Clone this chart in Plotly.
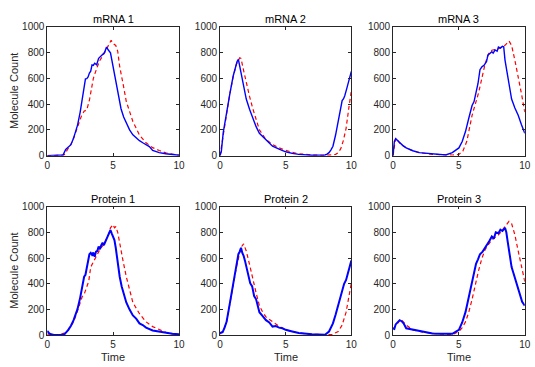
import plotly.graph_objects as go

# ---------------- data ----------------
titles = ["mRNA 1", "mRNA 2", "mRNA 3", "Protein 1", "Protein 2", "Protein 3"]

# deterministic (red dashed)
m1_ode_t = [0, 0.5, 1.0, 1.3, 1.5, 1.8, 2.0, 2.2, 2.4, 2.6, 2.8, 3.0, 3.2, 3.5, 3.8, 4.0, 4.3, 4.5, 4.7, 4.85, 5.0, 5.2, 5.35, 5.5, 5.75, 6.0, 6.5, 7.0, 7.5, 8.0, 8.5, 9.0, 9.5, 10.0]
m1_ode_y = [0, 0, 2, 8, 40, 90, 135, 190, 255, 310, 345, 355, 430, 600, 690, 740, 790, 830, 870, 895, 870, 855, 810, 690, 560, 420, 265, 160, 100, 62, 40, 22, 12, 5]
m1_ssa_t = [0, 0.5, 1.0, 1.2, 1.4, 1.6, 1.8, 2.0, 2.15, 2.3, 2.5, 2.7, 2.9, 3.0, 3.1, 3.2, 3.3, 3.4, 3.5, 3.6, 3.75, 3.9, 4.05, 4.2, 4.35, 4.5, 4.55, 4.65, 4.8, 5.0, 5.15, 5.3, 5.45, 5.6, 5.8, 6.0, 6.25, 6.5, 6.75, 7.0, 7.25, 7.5, 7.75, 8.0, 8.5, 9.0, 9.5, 10.0]
m1_ssa_y = [0, 0, 2, 5, 48, 68, 85, 136, 185, 237, 338, 465, 596, 598, 611, 641, 655, 704, 700, 717, 705, 755, 770, 780, 800, 843, 830, 818, 798, 692, 600, 515, 430, 364, 300, 250, 200, 162, 135, 116, 100, 86, 70, 40, 23, 15, 8, 3]

m2_ode_t = [0, 0.25, 0.5, 0.75, 1.0, 1.25, 1.5, 1.6, 1.8, 2.0, 2.25, 2.5, 2.75, 3.0, 3.5, 4.0, 4.5, 5.0, 5.5, 6.0, 7.0, 8.0, 8.5, 8.8, 9.0, 9.2, 9.4, 9.6, 9.8, 10.0]
m2_ode_y = [0, 170, 330, 480, 610, 710, 760, 755, 660, 566, 460, 364, 275, 200, 125, 86, 60, 40, 25, 15, 5, 2, 4, 10, 23, 55, 120, 212, 364, 503]
m2_ssa_t = [0, 0.1, 0.25, 0.5, 0.75, 1.0, 1.15, 1.3, 1.4, 1.5, 1.65, 1.8, 2.0, 2.25, 2.5, 2.75, 3.0, 3.25, 3.5, 4.0, 4.5, 5.0, 5.5, 6.0, 7.0, 7.5, 8.0, 8.15, 8.3, 8.45, 8.6, 8.8, 9.0, 9.15, 9.3, 9.4, 9.5, 9.65, 9.8, 9.9, 10.0]
m2_ssa_y = [0, 30, 180, 338, 480, 616, 680, 730, 747, 692, 610, 528, 439, 360, 288, 225, 174, 150, 124, 73, 50, 30, 18, 10, 3, 2, 5, 12, 23, 45, 73, 160, 263, 350, 427, 440, 465, 520, 578, 610, 654]

m3_ode_t = [0, 0.1, 0.2, 0.35, 0.5, 0.75, 1.0, 1.5, 2.0, 3.0, 4.0, 4.5, 5.0, 5.3, 5.6, 6.0, 6.5, 7.0, 7.25, 7.5, 8.0, 8.5, 8.8, 9.0, 9.25, 9.5, 9.75, 10.0]
m3_ode_y = [0, 90, 136, 120, 98, 78, 60, 38, 23, 10, 5, 5, 10, 35, 111, 313, 490, 717, 790, 818, 830, 856, 890, 856, 740, 616, 480, 338]
m3_ssa_t = [0, 0.1, 0.2, 0.35, 0.5, 0.75, 1.0, 1.5, 2.0, 3.0, 4.0, 4.5, 5.0, 5.25, 5.5, 5.75, 6.0, 6.15, 6.3, 6.45, 6.6, 6.75, 6.9, 7.0, 7.1, 7.2, 7.35, 7.5, 7.6, 7.75, 7.9, 8.0, 8.15, 8.3, 8.4, 8.5, 8.65, 8.8, 9.0, 9.25, 9.5, 9.75, 10.0]
m3_ssa_y = [0, 111, 131, 115, 98, 78, 60, 38, 23, 12, 5, 23, 60, 110, 187, 290, 389, 420, 490, 560, 667, 690, 700, 717, 730, 780, 790, 806, 795, 820, 810, 843, 835, 848, 845, 742, 650, 566, 439, 370, 313, 240, 174]

p1_ode_t = [0, 0.5, 1.0, 1.5, 2.0, 2.25, 2.5, 2.65, 2.8, 3.0, 3.15, 3.3, 3.5, 3.75, 4.0, 4.25, 4.5, 4.65, 4.8, 4.9, 5.0, 5.1, 5.2, 5.35, 5.5, 5.75, 6.0, 6.25, 6.5, 7.0, 7.5, 8.0, 8.5, 9.0, 9.5, 10.0]
p1_ode_y = [10, 5, 3, 30, 105, 175, 255, 300, 318, 380, 420, 530, 568, 610, 668, 700, 755, 780, 835, 850, 860, 835, 843, 800, 705, 580, 455, 350, 255, 168, 105, 68, 43, 23, 12, 5]
p1_ssa_t = [0, 0.15, 0.3, 0.5, 1.0, 1.3, 1.6, 1.8, 2.0, 2.15, 2.3, 2.5, 2.65, 2.8, 2.9, 3.0, 3.1, 3.2, 3.3, 3.4, 3.5, 3.6, 3.7, 3.8, 3.9, 4.0, 4.1, 4.2, 4.3, 4.45, 4.6, 4.7, 4.8, 4.9, 5.0, 5.1, 5.2, 5.35, 5.5, 5.65, 5.8, 6.0, 6.25, 6.5, 6.75, 7.0, 7.25, 7.5, 8.0, 8.5, 9.0, 9.5, 10.0]
p1_ssa_y = [35, 15, 8, 3, 3, 8, 43, 75, 118, 160, 205, 293, 380, 455, 470, 530, 590, 630, 640, 625, 643, 610, 650, 655, 690, 668, 700, 718, 700, 740, 780, 800, 818, 790, 768, 740, 680, 560, 455, 380, 330, 255, 200, 155, 130, 93, 80, 60, 38, 28, 18, 12, 8]

p2_ode_t = [0, 0.25, 0.5, 0.75, 1.0, 1.25, 1.5, 1.65, 1.8, 2.0, 2.25, 2.5, 2.75, 3.0, 3.25, 3.5, 4.0, 4.5, 5.0, 5.5, 6.0, 7.0, 8.0, 8.5, 9.0, 9.3, 9.6, 9.8, 10.0]
p2_ode_y = [10, 40, 100, 250, 400, 530, 640, 690, 710, 655, 550, 430, 330, 230, 180, 143, 105, 70, 43, 28, 18, 8, 3, 5, 30, 80, 180, 280, 405]
p2_ssa_t = [0, 0.2, 0.35, 0.5, 0.65, 0.8, 1.0, 1.1, 1.2, 1.3, 1.4, 1.5, 1.6, 1.7, 1.8, 1.9, 2.0, 2.15, 2.3, 2.45, 2.6, 2.75, 2.9, 3.0, 3.25, 3.5, 3.75, 4.0, 4.25, 4.5, 4.75, 5.0, 5.5, 6.0, 7.0, 8.0, 8.3, 8.6, 8.8, 9.0, 9.15, 9.3, 9.45, 9.6, 9.7, 9.8, 9.9, 10.0]
p2_ssa_y = [18, 25, 60, 105, 190, 280, 405, 450, 530, 580, 630, 650, 680, 640, 618, 580, 530, 470, 405, 380, 305, 280, 210, 180, 150, 118, 100, 68, 72, 60, 55, 43, 30, 18, 8, 5, 30, 93, 160, 230, 300, 355, 400, 430, 470, 505, 540, 580]

p3_ode_t = [0, 0.3, 0.6, 1.0, 1.5, 2.0, 3.0, 4.0, 4.5, 5.0, 5.25, 5.5, 5.75, 6.0, 6.25, 6.5, 6.75, 7.0, 7.5, 8.0, 8.25, 8.5, 8.8, 9.0, 9.25, 9.5, 9.75, 10.0]
p3_ode_y = [50, 90, 125, 80, 43, 30, 15, 8, 5, 30, 60, 105, 180, 280, 400, 505, 600, 668, 743, 780, 810, 843, 885, 868, 780, 655, 540, 418]
p3_ssa_t = [0, 0.1, 0.2, 0.35, 0.5, 0.65, 0.8, 1.0, 1.25, 1.5, 2.0, 2.5, 3.0, 3.5, 4.0, 4.5, 5.0, 5.25, 5.5, 5.75, 6.0, 6.15, 6.3, 6.45, 6.6, 6.8, 7.0, 7.15, 7.3, 7.5, 7.65, 7.8, 8.0, 8.15, 8.3, 8.5, 8.6, 8.7, 8.85, 9.0, 9.15, 9.3, 9.45, 9.6, 9.8, 10.0]
p3_ssa_y = [55, 50, 85, 105, 118, 110, 93, 55, 50, 43, 30, 20, 15, 12, 10, 12, 43, 100, 180, 290, 405, 480, 555, 590, 630, 650, 680, 700, 730, 768, 750, 800, 793, 820, 810, 835, 800, 730, 640, 530, 480, 430, 380, 330, 260, 230]

ode_t = [m1_ode_t, m2_ode_t, m3_ode_t, p1_ode_t, p2_ode_t, p3_ode_t]
ode_y = [m1_ode_y, m2_ode_y, m3_ode_y, p1_ode_y, p2_ode_y, p3_ode_y]
ssa_t = [m1_ssa_t, m2_ssa_t, m3_ssa_t, p1_ssa_t, p2_ssa_t, p3_ssa_t]
ssa_y = [m1_ssa_y, m2_ssa_y, m3_ssa_y, p1_ssa_y, p2_ssa_y, p3_ssa_y]

x_ticks = [0, 5, 10]
y_ticks = [0, 200, 400, 600, 800, 1000]

# ---------------- layout ----------------
W, H = 535, 367
col_px = [(45.0, 179.0), (220.7, 354.3), (396.7, 530.7)]
row_px = [(21.5, 154.7), (207.3, 340.5)]
FONT = "Liberation Sans, Arial, Helvetica, sans-serif"
TXT = "#262626"

fig = go.Figure()
layout = dict(width=W, height=H, margin=dict(l=0, r=0, t=0, b=0),
              paper_bgcolor="white", plot_bgcolor="white", showlegend=False,
              font=dict(family=FONT, size=10, color=TXT))
annotations = []
for i in range(6):
    r, c = divmod(i, 3)
    xa = "xaxis" if i == 0 else f"xaxis{i+1}"
    ya = "yaxis" if i == 0 else f"yaxis{i+1}"
    xref = "x" if i == 0 else f"x{i+1}"
    yref = "y" if i == 0 else f"y{i+1}"
    x0, x1 = col_px[c]
    y0, y1 = row_px[r]
    axis_common = dict(showline=True, linecolor=TXT, linewidth=0.8, mirror="ticks",
                       ticks="inside", ticklen=3, tickcolor=TXT, tickwidth=0.8,
                       showgrid=False, zeroline=False,
                       tickfont=dict(family=FONT, size=10, color=TXT))
    layout[xa] = dict(axis_common, domain=[x0 / W, x1 / W], range=[0, 10],
                      tickvals=x_ticks, anchor=yref)
    layout[ya] = dict(axis_common, domain=[1 - y1 / H, 1 - y0 / H], range=[0, 1000],
                      tickvals=y_ticks, anchor=xref)
    fig.add_trace(go.Scatter(x=ode_t[i], y=ode_y[i], mode="lines", xaxis=xref, yaxis=yref,
                             line=dict(color="red", width=1.2, dash="4px,3px")))
    fig.add_trace(go.Scatter(x=ssa_t[i], y=ssa_y[i], mode="lines", xaxis=xref, yaxis=yref,
                             line=dict(color="blue", width=1.4 if r == 0 else 2.0)))
    annotations.append(dict(text=titles[i], x=(x0 + x1) / 2 / W, y=1 - y0 / H,
                            xref="paper", yref="paper", xanchor="center", yanchor="bottom",
                            yshift=0, showarrow=False,
                            font=dict(family=FONT, size=11, color="black")))
    if r == 1:
        annotations.append(dict(text="Time", x=(x0 + x1) / 2 / W, y=1 - 362.5 / H,
                                xref="paper", yref="paper", xanchor="center", yanchor="middle",
                                showarrow=False, font=dict(family=FONT, size=11, color=TXT)))
    if c == 0:
        annotations.append(dict(text="Molecule Count", x=11 / W, y=1 - (y0 + y1) / 2 / H,
                                xref="paper", yref="paper", xanchor="center", yanchor="middle",
                                textangle=-90, showarrow=False,
                                font=dict(family=FONT, size=11, color=TXT)))
layout["annotations"] = annotations
fig.update_layout(**layout)
fig.write_html("out.html")
